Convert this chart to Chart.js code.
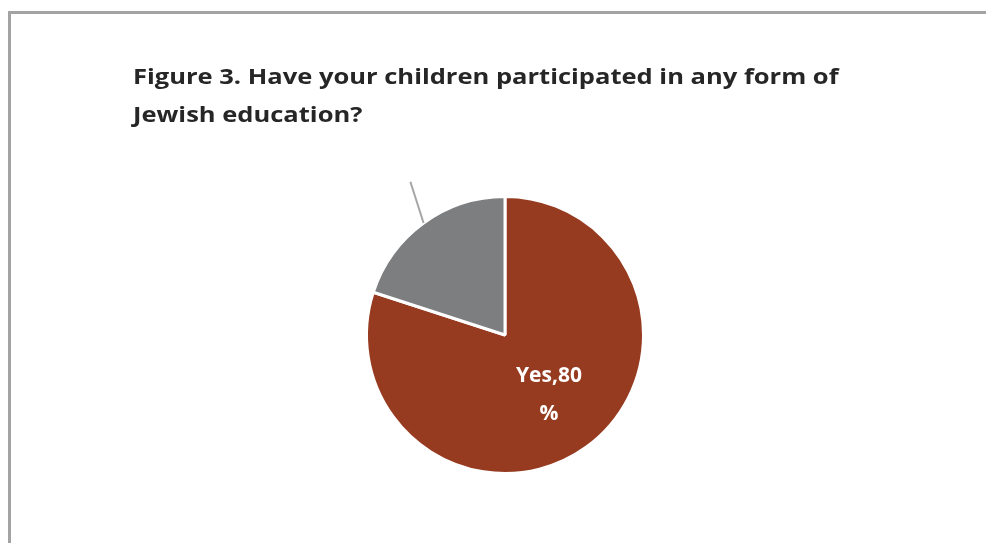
<!DOCTYPE html>
<html>
<head>
<meta charset="utf-8">
<script src="https://cdn.jsdelivr.net/npm/chart.js@4.4.1/dist/chart.umd.min.js"></script>
<style>
  html, body { margin: 0; padding: 0; background: #fff; }
  #wrap { position: relative; width: 986px; height: 543px; overflow: hidden; }
  #frame { position: absolute; left: 8px; top: 11px; right: -10px; bottom: -10px;
           border-top: 3px solid #a3a3a3; border-left: 3px solid #a3a3a3; }
  canvas { position: absolute; left: 0; top: 0; }
</style>
</head>
<body>
<div id="wrap">
  <div id="frame"></div>
  <canvas id="pie" width="986" height="543"></canvas>
</div>
<script>
const titleLines = ["Figure 3. Have your children participated in any form of", "Jewish education?"];
const categories = ["Yes", "No"];
const percents = [80, 20];
const sliceColors = ["#963b20", "#7d7e80"];

// title, stretched sideways a little since the original font runs wide
const wideTitle = {
  id: "wideTitle",
  afterDraw(chart) {
    const ctx = chart.ctx;
    ctx.save();
    ctx.translate(133, 0);
    ctx.scale(1.16, 1);
    ctx.fillStyle = "#262626";
    ctx.font = "bold 22px 'Open Sans'";
    ctx.textAlign = "left";
    ctx.textBaseline = "middle";
    titleLines.forEach((t, i) => ctx.fillText(t, 0, 78 + i * 38));
    ctx.restore();
  }
};

// label drawn inside the Yes slice, leader line only for the small slice
const sliceLabels = {
  id: "sliceLabels",
  afterDatasetsDraw(chart) {
    const ctx = chart.ctx;
    const arcs = chart.getDatasetMeta(0).data;
    arcs.forEach((arc, i) => {
      const p = arc.getProps(["x", "y", "startAngle", "endAngle", "outerRadius"], true);
      const mid = (p.startAngle + p.endAngle) / 2;
      ctx.save();
      if (i === 0) {
        const r = p.outerRadius * 0.54;
        const cx = p.x + Math.cos(mid) * r;
        const cy = p.y + Math.sin(mid) * r;
        ctx.fillStyle = "#ffffff";
        ctx.font = "bold 21px 'Open Sans'";
        ctx.textAlign = "center";
        ctx.textBaseline = "middle";
        ctx.fillText(categories[i] + "," + percents[i], cx, cy - 19);
        ctx.fillText("%", cx, cy + 19);
      } else {
        const x1 = p.x + Math.cos(mid) * p.outerRadius;
        const y1 = p.y + Math.sin(mid) * p.outerRadius;
        const x2 = p.x + Math.cos(mid + 0.075) * p.outerRadius * 1.3;
        const y2 = p.y + Math.sin(mid + 0.075) * p.outerRadius * 1.3;
        ctx.strokeStyle = "#a6a6a6";
        ctx.lineWidth = 2;
        ctx.beginPath();
        ctx.moveTo(x1, y1);
        ctx.lineTo(x2, y2);
        ctx.stroke();
      }
      ctx.restore();
    });
  }
};

new Chart(document.getElementById("pie"), {
  type: "pie",
  data: {
    labels: categories,
    datasets: [{
      data: percents,
      backgroundColor: sliceColors,
      borderColor: "#ffffff",
      borderWidth: 3
    }]
  },
  options: {
    responsive: false,
    animation: false,
    layout: { padding: { left: 133, right: 109, top: 195, bottom: 68 } },
    plugins: {
      legend: { display: false },
      tooltip: { enabled: false },
      title: { display: false }
    }
  },
  plugins: [sliceLabels, wideTitle]
});
</script>
</body>
</html>
